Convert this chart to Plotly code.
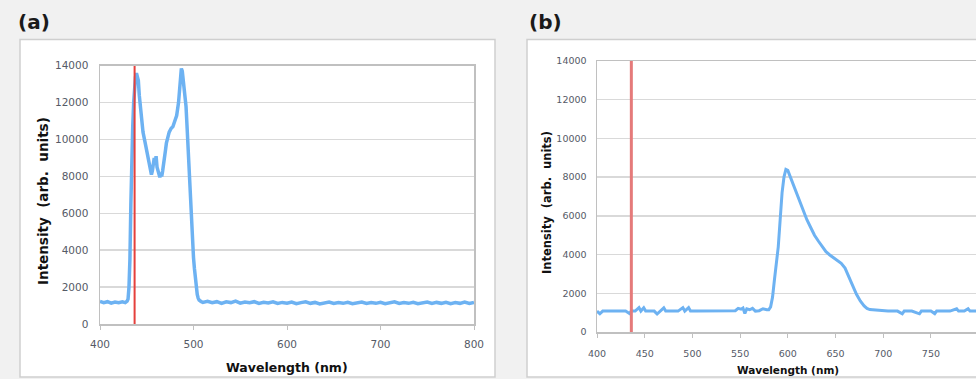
import plotly.graph_objects as go

W, H = 976, 379

# ---------------- data: panel (a) ----------------
wl_a = [400, 404, 408, 412, 416, 420, 424, 427, 429, 430, 431, 432, 433, 434, 435,
        436, 437, 438, 439, 440, 441, 442, 444, 446, 448, 450, 452, 454, 455, 456,
        457, 458, 459, 460, 461, 462, 463, 464, 465, 466, 467, 468, 469, 470, 471,
        472, 474, 476, 478, 480, 482, 484, 485, 486, 487, 488, 489, 490, 491, 492,
        493, 494, 495, 496, 497, 498, 499, 500, 501, 502, 503, 504, 505, 506, 508,
        510, 515, 520, 525, 530, 535, 540, 545, 550, 555, 560, 565, 570, 575, 580,
        585, 590, 595, 600, 605, 610, 615, 620, 625, 630, 635, 640, 645, 650, 655,
        660, 665, 670, 675, 680, 685, 690, 695, 700, 705, 710, 715, 720, 725, 730,
        735, 740, 745, 750, 755, 760, 765, 770, 775, 780, 785, 790, 795, 800]
int_a = [1220, 1160, 1210, 1130, 1190, 1150, 1200, 1160, 1240, 1350, 2000, 3500, 6500, 10300, 10700,
         12000, 13000, 13400, 13600, 13400, 13200, 12400, 11400, 10400, 9900, 9400, 8900, 8400, 8100, 8300,
         8700, 9000, 8700, 9100, 8500, 8300, 8100, 7950, 8200, 8000, 8300, 8600, 8900, 9400, 9800,
         10000, 10400, 10600, 10700, 11000, 11300, 12000, 12800, 13400, 13850, 13700, 13300, 12600, 12400, 11800,
         10800, 9800, 8600, 7500, 6200, 5000, 4300, 3600, 3000, 2400, 1900, 1600, 1400, 1300, 1220,
         1170, 1230, 1150, 1210, 1120, 1200, 1160, 1240, 1130, 1190, 1150, 1210, 1120, 1180, 1140,
         1200, 1110, 1170, 1130, 1190, 1100, 1160, 1200, 1120, 1170, 1090, 1150, 1190, 1110, 1160,
         1120, 1180, 1100, 1150, 1190, 1110, 1160, 1120, 1180, 1100, 1150, 1200, 1110, 1160, 1120,
         1180, 1100, 1150, 1190, 1110, 1170, 1120, 1180, 1100, 1160, 1120, 1190, 1110, 1170]

# ---------------- data: panel (b) ----------------
wl_b = [400, 403, 406, 410, 415, 420, 425, 430, 434, 436, 440, 444, 446, 449, 451,
        455, 460, 463, 466, 470, 472, 475, 480, 485, 490, 492, 496, 498, 505, 510,
        515, 520, 525, 530, 535, 540, 545, 548, 551, 553, 555, 557, 560, 563, 566,
        570, 574, 578, 580, 582, 584, 586, 588, 590, 592, 594, 596, 598, 600, 602,
        604, 608, 612, 616, 620, 624, 628, 632, 636, 640, 644, 648, 652, 656, 660,
        664, 668, 672, 676, 680, 683, 686, 690, 695, 700, 705, 710, 715, 720, 722,
        730, 738, 740, 745, 750, 754, 756, 760, 765, 770, 777, 779, 785, 789, 791,
        795, 800]
int_b = [1080, 940, 1080, 1085, 1080, 1075, 1080, 1080, 960, 1080, 1085, 1260, 1080, 1250, 1080,
         1085, 1080, 930, 1080, 1250, 1080, 1080, 1085, 1080, 1260, 1080, 1260, 1080, 1080, 1085,
         1080, 1080, 1075, 1080, 1085, 1080, 1100, 1220, 1180, 1240, 960, 1200, 1150, 1220, 1080,
         1100, 1200, 1150, 1150, 1300, 1800, 2700, 3500, 4400, 5800, 7200, 8000, 8400, 8350, 8100,
         7850, 7300, 6750, 6250, 5800, 5400, 5000, 4700, 4400, 4150, 3980, 3850, 3700, 3550, 3300,
         2800, 2400, 1950, 1600, 1350, 1220, 1160, 1140, 1110, 1085, 1080, 1080, 1080, 940, 1080,
         1085, 940, 1080, 1080, 1080, 950, 1080, 1080, 1080, 1080, 1200, 1080, 1080, 1200, 1080,
         1080, 1080]

laser_nm = 437
y_range = [0, 14000]
x_ticks_a = [400, 500, 600, 700, 800]
x_ticks_b = [400, 450, 500, 550, 600, 650, 700, 750, 800]
y_ticks = [0, 2000, 4000, 6000, 8000, 10000, 12000, 14000]

BLUE = "#6db2f2"
GRID = "#d9d9d9"
AXC = "#c0c0c0"
TICKC = "#555a66"
FONT = "DejaVu Sans"

def px(x):
    return x / W

def py(y):
    return 1 - y / H

fig = go.Figure()
fig.add_trace(go.Scatter(x=wl_a, y=int_a, mode="lines", line=dict(color=BLUE, width=3.5),
                         xaxis="x", yaxis="y", showlegend=False, hoverinfo="skip"))
fig.add_trace(go.Scatter(x=[laser_nm, laser_nm], y=y_range, mode="lines",
                         line=dict(color="#e5403c", width=2), xaxis="x", yaxis="y",
                         showlegend=False, hoverinfo="skip"))
fig.add_trace(go.Scatter(x=wl_b, y=int_b, mode="lines", line=dict(color=BLUE, width=3),
                         xaxis="x2", yaxis="y2", showlegend=False, hoverinfo="skip"))
fig.add_trace(go.Scatter(x=[laser_nm - 1, laser_nm - 1], y=y_range, mode="lines",
                         line=dict(color="#e57a7a", width=3), xaxis="x2", yaxis="y2",
                         showlegend=False, hoverinfo="skip"))

xa = dict(showgrid=False, showline=True, linecolor=AXC, linewidth=1.5, mirror=True,
          ticks="outside", ticklen=4, tickcolor=AXC, zeroline=False, fixedrange=True,
          automargin=False)
ya = dict(showgrid=True, gridcolor=GRID, gridwidth=1.5, showline=True, linecolor=AXC, linewidth=1.5,
          mirror=True, ticks="", zeroline=False, range=y_range, tickvals=y_ticks,
          tickformat="d", fixedrange=True, automargin=False)

fig.update_layout(
    template="none",
    width=W, height=H, margin=dict(l=0, r=0, t=0, b=0, pad=0),
    paper_bgcolor="#f1f1f1", plot_bgcolor="white",
    font=dict(family=FONT, color=TICKC),
    hovermode=False,
    xaxis=dict(xa, domain=[px(100), px(474)], range=[400, 800], tickvals=x_ticks_a,
               tickfont=dict(size=10.5, color=TICKC), ticklabelstandoff=6, anchor="y"),
    yaxis=dict(ya, domain=[py(324), py(65.7)], tickfont=dict(size=10.5, color=TICKC),
               ticklabelstandoff=8, anchor="x"),
    xaxis2=dict(xa, domain=[px(597), 1.0], range=[400, 400 + (W - 597) * 50 / 47.7],
                tickvals=x_ticks_b, tickfont=dict(size=9.5, color=TICKC), ticklabelstandoff=8,
                anchor="y2"),
    yaxis2=dict(ya, domain=[py(332), py(61)], tickfont=dict(size=9.5, color=TICKC),
                ticklabelstandoff=7, anchor="x2"),
    shapes=[
        dict(type="rect", xref="paper", yref="paper", x0=px(20), x1=px(495), y0=py(377), y1=py(39.5),
             fillcolor="white", line=dict(color="#cfcfcf", width=1.5), layer="below"),
        dict(type="rect", xref="paper", yref="paper", x0=px(527), x1=px(990), y0=py(377), y1=py(39.5),
             fillcolor="white", line=dict(color="#cfcfcf", width=1.5), layer="below"),
    ],
    annotations=[
        dict(text="<b>(a)</b>", x=px(34), y=py(22), xref="paper", yref="paper", showarrow=False,
             xanchor="center", yanchor="middle", font=dict(family=FONT, size=20, color="#1a1a1a")),
        dict(text="<b>(b)</b>", x=px(545), y=py(22), xref="paper", yref="paper", showarrow=False,
             xanchor="center", yanchor="middle", font=dict(family=FONT, size=20, color="#1a1a1a")),
        dict(text="<b>Wavelength (nm)</b>", x=px(287), y=py(367), xref="paper", yref="paper",
             showarrow=False, xanchor="center", yanchor="middle",
             font=dict(family=FONT, size=12.5, color="#111")),
        dict(text="<b>Intensity  (arb.  units)</b>", x=px(43), y=py(201), xref="paper", yref="paper",
             showarrow=False, xanchor="center", yanchor="middle", textangle=-90,
             font=dict(family=FONT, size=13.5, color="#111")),
        dict(text="<b>Wavelength (nm)</b>", x=px(788), y=py(370), xref="paper", yref="paper",
             showarrow=False, xanchor="center", yanchor="middle",
             font=dict(family=FONT, size=10.5, color="#111")),
        dict(text="<b>Intensity  (arb.  units)</b>", x=px(547), y=py(203), xref="paper", yref="paper",
             showarrow=False, xanchor="center", yanchor="middle", textangle=-90,
             font=dict(family=FONT, size=11.5, color="#111")),
    ],
)

fig.write_html("out.html", config={"displayModeBar": False, "staticPlot": True},
               post_script="document.body.style.margin='0';document.body.style.overflow='hidden';")
